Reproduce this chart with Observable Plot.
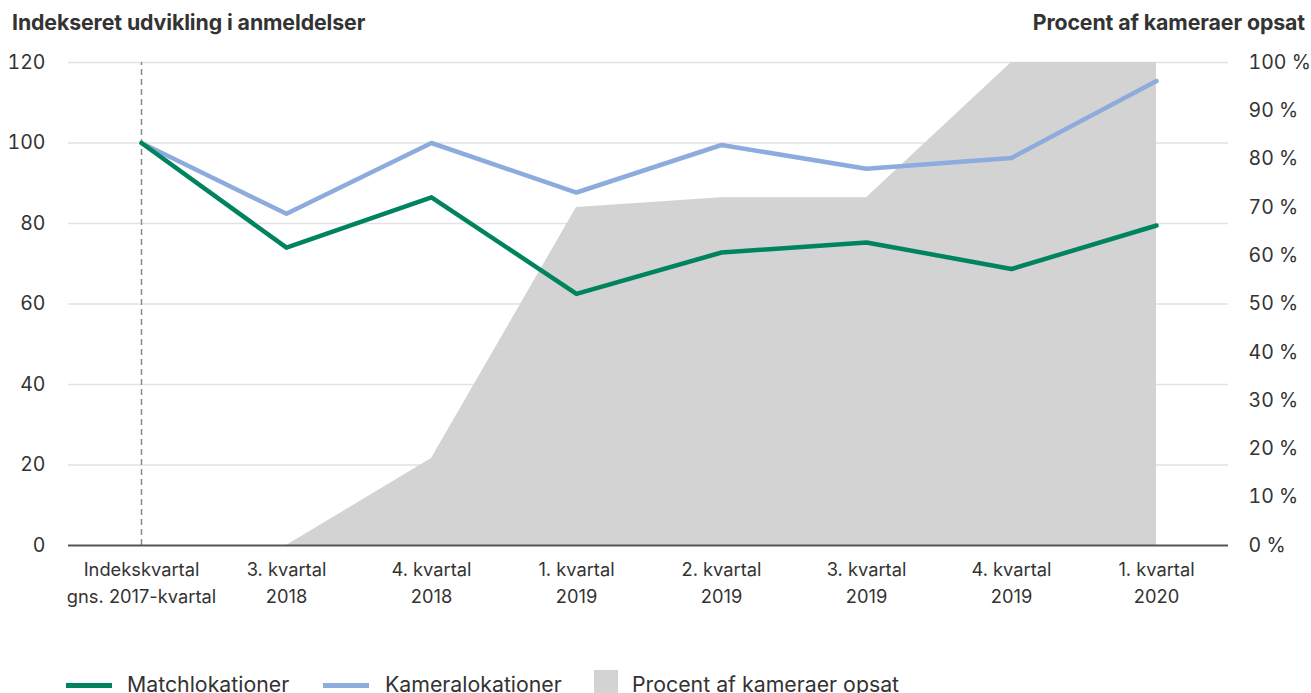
<!DOCTYPE html>
<html>
<head>
<meta charset="utf-8">
<script src="https://cdn.jsdelivr.net/npm/d3@7"></script>
<script src="https://cdn.jsdelivr.net/npm/@observablehq/plot@0.6"></script>
<style>
  body { margin: 0; background: #fff; font-family: Inter, "Noto Sans", sans-serif; color: #333; }
  #wrap { position: relative; width: 1311px; height: 693px; overflow: hidden; }
  .title { position: absolute; top: 8px; font-weight: 700; font-size: 21.3px; line-height: 28px; color: #333; letter-spacing: -0.1px; white-space: nowrap; }
  #chart { position: absolute; left: 0; top: 40px; }
  .leg { position: absolute; top: 670px; font-size: 21.3px; color: #333; white-space: nowrap; line-height: 28px; }
  .sw { position: absolute; }
</style>
</head>
<body>
<div id="wrap">
  <div class="title" style="left:12px;">Indekseret udvikling i anmeldelser</div>
  <div class="title" style="right:6px;">Procent af kameraer opsat</div>
  <div id="chart"></div>
  <div class="sw" style="left:66px; top:683px; width:46px; height:5px; background:#00845e;"></div>
  <div class="leg" style="left:127px;">Matchlokationer</div>
  <div class="sw" style="left:323px; top:683px; width:46px; height:5px; background:#8eabdd;"></div>
  <div class="leg" style="left:385px;">Kameralokationer</div>
  <div class="sw" style="left:594px; top:670px; width:24px; height:24px; background:#d3d3d3;"></div>
  <div class="leg" style="left:632px;">Procent af kameraer opsat</div>
</div>
<script>
const categories = [
  "Indekskvartal\ngns. 2017-kvartal",
  "3. kvartal\n2018",
  "4. kvartal\n2018",
  "1. kvartal\n2019",
  "2. kvartal\n2019",
  "3. kvartal\n2019",
  "4. kvartal\n2019",
  "1. kvartal\n2020"
];
const matchlokationer = [100, 74, 86.5, 62.5, 72.8, 75.3, 68.7, 79.5];
const kameralokationer = [100, 82.4, 100, 87.7, 99.5, 93.6, 96.3, 115.4];
const procentOpsat = [null, 0, 18, 70, 72, 72, 100, 100];
const leftTicks = [0, 20, 40, 60, 80, 100, 120];
const rightTicks = [0, 10, 20, 30, 40, 50, 60, 70, 80, 90, 100];

const GREEN = "#00845e", BLUE = "#8eabdd", GRAY = "#d3d3d3";
const pctToY = p => p * 120 / 100;

const rows = categories.map((c, i) => ({
  cat: c, match: matchlokationer[i], kamera: kameralokationer[i], pct: procentOpsat[i]
}));

const chart = Plot.plot({
  width: 1311,
  height: 600,
  marginTop: 22,
  marginBottom: 95,
  marginLeft: 68,
  marginRight: 83,
  style: { fontFamily: "Inter, 'Noto Sans', sans-serif", color: "#333", background: "transparent" },
  x: { type: "point", domain: categories, padding: 0.5 },
  y: { domain: [0, 120] },
  marks: [
    Plot.gridY(leftTicks.filter(d => d > 0), { stroke: "#e2e2e2", strokeOpacity: 1, strokeWidth: 1.5 }),
    Plot.ruleX([categories[0]], { y1: 0, y2: 120, stroke: "#8a8a8a", strokeWidth: 1.5, strokeDasharray: "6,4" }),
    Plot.areaY(rows, { x: "cat", y: d => d.pct == null ? NaN : pctToY(d.pct), fill: GRAY, curve: "linear" }),
    Plot.ruleY([0], { stroke: "#555", strokeWidth: 2 }),
    Plot.lineY(rows, { x: "cat", y: "kamera", stroke: BLUE, strokeWidth: 4.5, strokeLinejoin: "round" }),
    Plot.lineY(rows, { x: "cat", y: "match", stroke: GREEN, strokeWidth: 4.5, strokeLinejoin: "round" }),
    Plot.axisY(leftTicks, { anchor: "left", tickSize: 0, tickPadding: 23, fontSize: 19.5, label: null }),
    Plot.axisY(rightTicks.map(pctToY), { anchor: "right", tickSize: 0, tickPadding: 20, fontSize: 19.5, label: null,
      tickFormat: d => `${Math.round(d * 100 / 120)} %` }),
    Plot.axisX({ tickSize: 0, tickPadding: 11, fontSize: 18.3, lineHeight: 1.47, label: null })
  ]
});
document.getElementById("chart").appendChild(chart);
</script>
</body>
</html>
